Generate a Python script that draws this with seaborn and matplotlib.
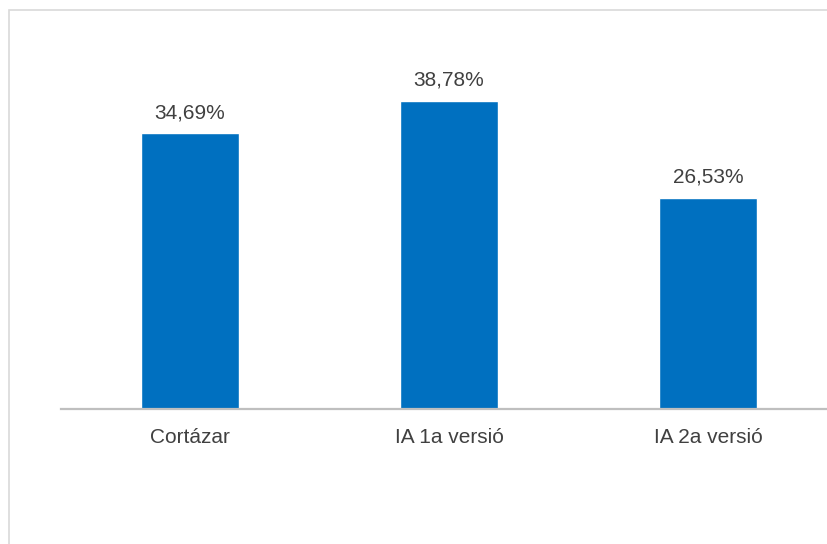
import matplotlib
matplotlib.use("Agg")
import matplotlib.pyplot as plt
import matplotlib.patches as mpatches
import pandas as pd
import seaborn as sns

# Share of responses per text version
categories = ["Cortázar", "IA 1a versió", "IA 2a versió"]
values = [34.69, 38.78, 26.53]

df = pd.DataFrame({"versio": categories, "percentatge": values})

sns.set_theme(style="white")
plt.rcParams["font.family"] = ["Liberation Sans", "DejaVu Sans"]

W, H, DPI = 827, 544, 100
fig = plt.figure(figsize=(W / DPI, H / DPI), dpi=DPI)

# plot area in pixels: baseline at y=409, slot width ~259 px per category
left_px, right_px = 60.5, 837.5
base_px = 409.0
ymax = 45.0
px_per_unit = 7.95
top_px = base_px - ymax * px_per_unit
ax = fig.add_axes([left_px / W, 1 - base_px / H,
                   (right_px - left_px) / W, (base_px - top_px) / H])

sns.barplot(data=df, x="versio", y="percentatge", color="#0070C0",
            saturation=1, width=0.38, ax=ax)

ax.set_xlim(-0.5, len(categories) - 0.5)
ax.set_ylim(0, ymax)
ax.set_xlabel("")
ax.set_ylabel("")
ax.set_yticks([])

for side in ("top", "right", "left"):
    ax.spines[side].set_visible(False)
ax.spines["bottom"].set_color("#BFBFBF")
ax.spines["bottom"].set_linewidth(1.6)

ax.tick_params(axis="x", length=0, pad=14, labelsize=15, labelcolor="#404040")

labels = [f"{v:.2f}%".replace(".", ",") for v in values]
ax.bar_label(ax.containers[0], labels=labels, padding=8,
             fontsize=15, color="#404040")

# chart frame
frame = mpatches.Rectangle((8.5 / W, -0.1), 1.2, 1 - 10.5 / H + 0.1,
                           transform=fig.transFigure, fill=False,
                           edgecolor="#D9D9D9", linewidth=1.2)
fig.patches.append(frame)

fig.savefig("out.png", dpi=DPI)
